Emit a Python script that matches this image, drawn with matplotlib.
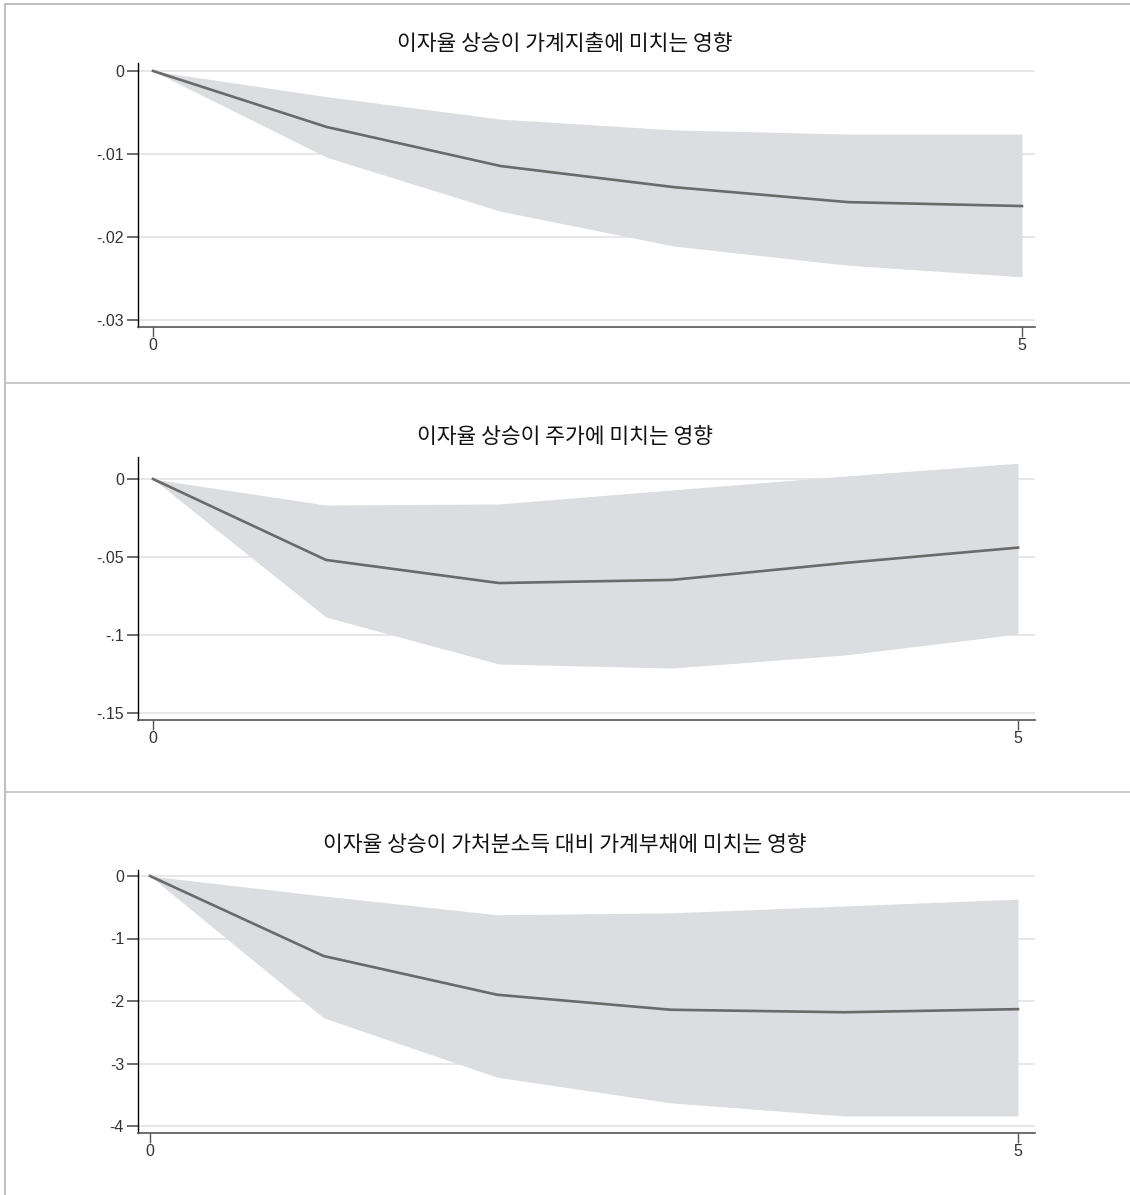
import matplotlib
matplotlib.use("Agg")
import matplotlib.pyplot as plt
from matplotlib.lines import Line2D

# impulse response steps
steps = [0, 1, 2, 3, 4, 5]

titles = ["이자율 상승이 가계지출에 미치는 영향",
          "이자율 상승이 주가에 미치는 영향",
          "이자율 상승이 가처분소득 대비 가계부채에 미치는 영향"]

# panel 1: household spending
spend_irf = [0, -0.00675, -0.01145, -0.0140, -0.0158, -0.01627]
spend_lo = [0, -0.0104, -0.0169, -0.0211, -0.0234, -0.0248]
spend_hi = [0, -0.0031, -0.0058, -0.0071, -0.0076, -0.0076]

# panel 2: stock prices
stock_irf = [0, -0.0519, -0.0667, -0.0647, -0.0538, -0.0440]
stock_lo = [0, -0.0885, -0.1186, -0.1212, -0.1128, -0.0994]
stock_hi = [0, -0.0167, -0.0160, -0.0070, 0.0019, 0.0101]

# panel 3: household debt to disposable income
debt_irf = [0, -1.28, -1.90, -2.14, -2.18, -2.13]
debt_lo = [0, -2.27, -3.22, -3.63, -3.84, -3.84]
debt_hi = [0, -0.32, -0.62, -0.59, -0.48, -0.37]

yticks = [[0, -0.01, -0.02, -0.03], [0, -0.05, -0.1, -0.15], [0, -1, -2, -3, -4]]
ylabels = [["0", "-.01", "-.02", "-.03"], ["0", "-.05", "-.1", "-.15"],
           ["0", "-1", "-2", "-3", "-4"]]

W, H = 1130, 1195
fig = plt.figure(figsize=(W / 100, H / 100), dpi=100)
fig.patch.set_facecolor("white")

# axes boxes in pixels: left, top, right, bottom
boxes = [(138, 63, 1035, 327), (138, 457, 1035, 720), (138, 870, 1035, 1133)]
xlims = [(-0.0863, 5.075), (-0.0867, 5.098), (-0.069, 5.098)]
ylims = [(-0.03084, 0.00096), (-0.1545, 0.0141), (-4.112, 0.096)]
title_y = [44, 437, 845]

series = [(spend_irf, spend_lo, spend_hi), (stock_irf, stock_lo, stock_hi),
          (debt_irf, debt_lo, debt_hi)]

for i in range(3):
    l, t, r, b = boxes[i]
    ax = fig.add_axes([l / W, 1 - b / H, (r - l) / W, (b - t) / H])
    irf, lo, hi = series[i]
    ax.fill_between(steps, lo, hi, color="#dcdde0", lw=0, zorder=2)
    ax.plot(steps, irf, color="#6a6a6a", lw=1.9, zorder=3)
    ax.set_xlim(*xlims[i])
    ax.set_ylim(*ylims[i])
    ax.set_xticks([0, 5])
    ax.set_xticklabels(["0", "5"])
    ax.set_yticks(yticks[i])
    ax.set_yticklabels(ylabels[i])
    for y in yticks[i]:
        ax.axhline(y, color="#e3e3e3", lw=1.2, zorder=1)
    for s in ["top", "right"]:
        ax.spines[s].set_visible(False)
    ax.spines["left"].set_color("black")
    ax.spines["left"].set_linewidth(1.0)
    ax.spines["bottom"].set_color("#555555")
    ax.spines["bottom"].set_linewidth(1.2)
    ax.tick_params(axis="y", length=8, width=1.2, color="#555555", pad=2,
                   labelsize=11.5, labelcolor="#333333")
    ax.tick_params(axis="x", length=7, width=1.0, color="#555555", pad=1,
                   labelsize=11.5, labelcolor="#333333")
    for lab in ax.get_xticklabels() + ax.get_yticklabels():
        lab.set_family(["Liberation Sans", "DejaVu Sans"])
    fig.text(0.5, 1 - title_y[i] / H, titles[i], ha="center", va="center",
             fontsize=15.5, color="#111111",
             family=["Noto Sans CJK KR", "DejaVu Sans"])

# graph frame and separators
frame = "#c0c0c0"
fig.add_artist(Line2D([5 / W, 5 / W], [0, 1 - 4 / H], color=frame, lw=1.5))
fig.add_artist(Line2D([5 / W, 1], [1 - 4 / H, 1 - 4 / H], color=frame, lw=1.5))
for sy in [383, 792]:
    fig.add_artist(Line2D([5 / W, 1], [1 - sy / H, 1 - sy / H], color=frame, lw=1.2))

fig.savefig("out.png", dpi=100)
